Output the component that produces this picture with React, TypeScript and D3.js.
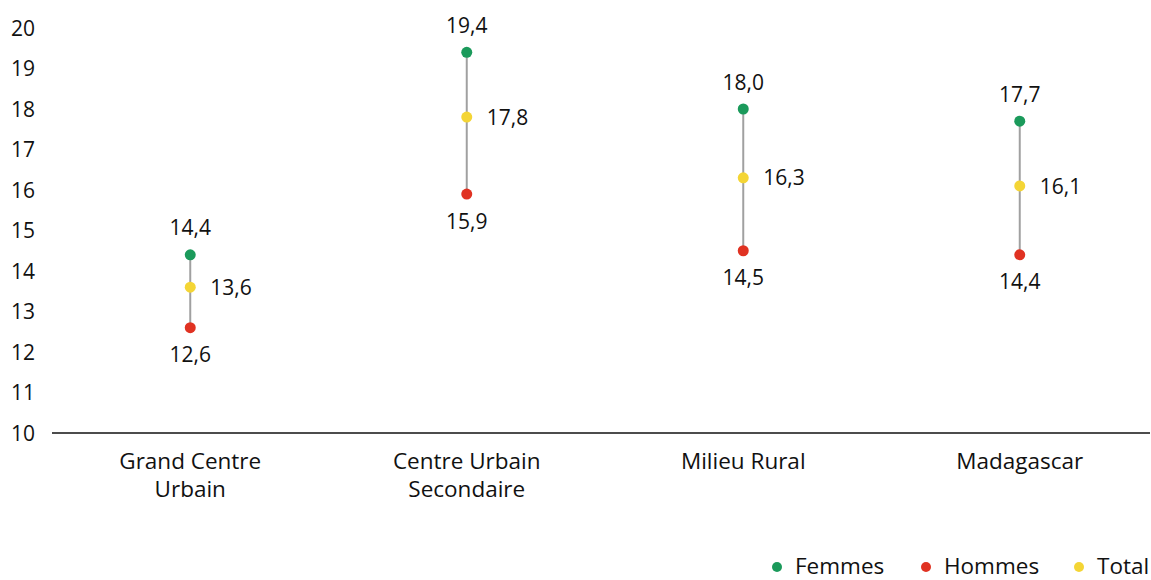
import React from "react";
import * as d3 from "d3";

const categories: string[][] = [
  ["Grand Centre", "Urbain"],
  ["Centre Urbain", "Secondaire"],
  ["Milieu Rural"],
  ["Madagascar"],
];
const femmes = [14.4, 19.4, 18.0, 17.7];
const hommes = [12.6, 15.9, 14.5, 14.4];
const total = [13.6, 17.8, 16.3, 16.1];
const yTicks = [10, 11, 12, 13, 14, 15, 16, 17, 18, 19, 20];
const seriesNames = ["Femmes", "Hommes", "Total"];

const COLORS = { Femmes: "#1b9a5b", Hommes: "#e03222", Total: "#f4d535" } as Record<string, string>;
const FONT = "'Open Sans', 'Noto Sans', sans-serif";
const FS = 21;
const FS_LABEL = 22.5;

export default function App() {
  const W = 1151, H = 580;
  const y = d3.scaleLinear().domain([10, 20]).range([433, 28]);
  const x = d3.scalePoint<number>().domain(d3.range(4)).range([52, 1158]).padding(0.5);
  const fmt = (v: number) => v.toFixed(1).replace(".", ",");
  const legendX = [777, 926, 1079];

  return (
    <svg width={W} height={H} style={{ position: "absolute", left: 0, top: 0, fontFamily: FONT }}>
      <rect width={W} height={H} fill="#fff" />
      {yTicks.map((t) => (
        <text key={t} x={35} y={y(t)} dy="0.36em" textAnchor="end" fontSize={FS} fill="#111">
          {t}
        </text>
      ))}
      <line x1={52} x2={1150} y1={y(10)} y2={y(10)} stroke="#111" strokeWidth={1.3} />
      {categories.map((lines, i) => (
        <text key={i} x={x(i)!} y={461} textAnchor="middle" fontSize={FS_LABEL} fill="#111">
          {lines.map((l, j) => (
            <tspan key={j} x={x(i)!} dy={j === 0 ? "0.36em" : 28}>
              {l}
            </tspan>
          ))}
        </text>
      ))}
      {categories.map((_, i) => {
        const cx = x(i)!;
        return (
          <g key={i}>
            <line x1={cx} x2={cx} y1={y(femmes[i])} y2={y(hommes[i])} stroke="#a0a0a0" strokeWidth={2} />
            <circle cx={cx} cy={y(femmes[i])} r={5.5} fill={COLORS.Femmes} />
            <circle cx={cx} cy={y(hommes[i])} r={5.5} fill={COLORS.Hommes} />
            <circle cx={cx} cy={y(total[i])} r={5.5} fill={COLORS.Total} />
            <text x={cx} y={y(femmes[i]) - 27} dy="0.36em" textAnchor="middle" fontSize={FS} fill="#111">
              {fmt(femmes[i])}
            </text>
            <text x={cx} y={y(hommes[i]) + 27} dy="0.36em" textAnchor="middle" fontSize={FS} fill="#111">
              {fmt(hommes[i])}
            </text>
            <text x={cx + 20} y={y(total[i])} dy="0.36em" textAnchor="start" fontSize={FS} fill="#111">
              {fmt(total[i])}
            </text>
          </g>
        );
      })}
      {seriesNames.map((n, i) => (
        <g key={n}>
          <circle cx={legendX[i]} cy={567} r={5} fill={COLORS[n]} />
          <text x={legendX[i] + 18} y={574} fontSize={FS_LABEL} fill="#111">
            {n}
          </text>
        </g>
      ))}
    </svg>
  );
}
